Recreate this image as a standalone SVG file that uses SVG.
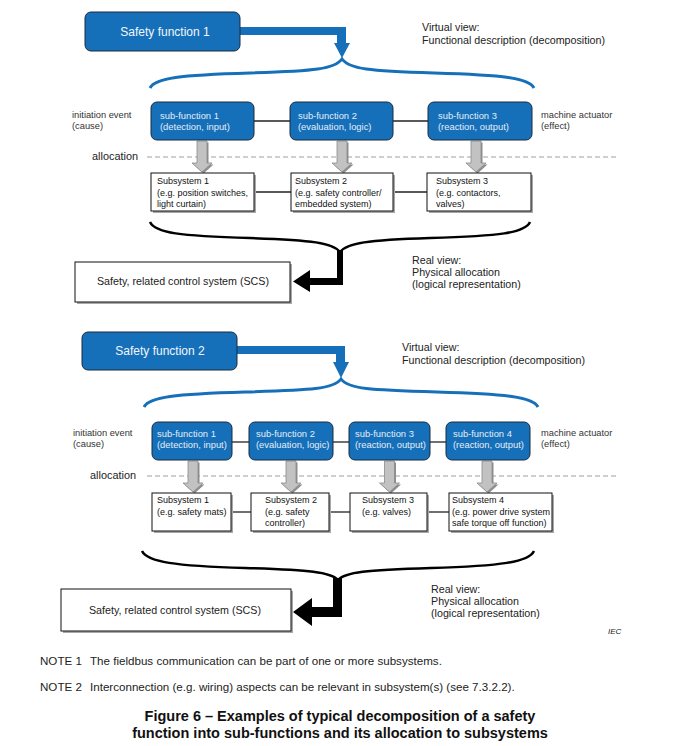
<svg xmlns="http://www.w3.org/2000/svg" xmlns:xlink="http://www.w3.org/1999/xlink" width="692" height="746" viewBox="0 0 692 746">
<style>
text{font-family:"Liberation Sans",Arial,sans-serif;fill:#222}
.sf{fill:#1670b9;stroke:#1b2a3c;stroke-width:1}
.sft{fill:#f2f6fb;font-size:12px}
.sub{fill:#1670b9;stroke:#1b2a3c;stroke-width:1}
.subt{fill:#e4edf7;font-size:9.4px}
.ss{fill:#fff;stroke:#111;stroke-width:1}
.sh{fill:#a8a8a8}
.sst{font-size:9px;fill:#111}
.lab{font-size:9.3px;fill:#333}
.big{font-size:10.7px;fill:#222}
.alloc{font-size:10.9px;fill:#222}
.ln{stroke:#222;stroke-width:1.3;fill:none}
.dash{stroke:#a0a0a0;stroke-width:1.2;stroke-dasharray:5 3;fill:none}
.bbrace{stroke:#1670b9;stroke-width:3;fill:none}
.kbrace{stroke:#000;stroke-width:2.5;fill:none}
.ga{fill:#c2c2c2;stroke:#8c8c8c;stroke-width:0.8}
.gash{fill:#8e8e8e}
.note{font-size:11.6px;fill:#222}
.cap{font-size:14.5px;font-weight:bold;fill:#111}
</style>
<defs>
<path id="garrow" d="M-5,0 H5 V22 H10 L0,31 L-10,22 H-5 Z"/>
</defs>

<g id="connectors">
  <!-- section 1 -->
  <polygon fill="#1670b9" points="240,27 346,27 346,43 350,43 342,58 334,43 337,43 337,35 240,35"/>
  <path class="bbrace" d="M150,88 C155,78 180,75 250,73 C315,71 335,69 342,59 C349,69 369,71 434,73 C504,75 529,78 534,88"/>
  <line class="ln" x1="254" y1="121" x2="290" y2="121"/>
  <line class="ln" x1="393" y1="121" x2="428" y2="121"/>
  <line class="dash" x1="147" y1="157" x2="618" y2="157"/>
  <use href="#garrow" x="203.5" y="142.5" class="gash"/>
  <use href="#garrow" x="202" y="141" class="ga"/>
  <use href="#garrow" x="343.5" y="142.5" class="gash"/>
  <use href="#garrow" x="342" y="141" class="ga"/>
  <use href="#garrow" x="477.5" y="142.5" class="gash"/>
  <use href="#garrow" x="476" y="141" class="ga"/>
  <line class="ln" x1="254" y1="192" x2="291" y2="192"/>
  <line class="ln" x1="393" y1="192" x2="427" y2="192"/>
  <path class="kbrace" d="M150,222 C155,233 180,236 250,238 C313,240 333,243 340,252 C347,243 367,240 430,238 C500,236 525,233 530,222"/>
  <polygon fill="#000" points="337,250 343,250 343,285 310,285 310,292 293,281.5 310,270 310,278 337,278"/>

  <!-- section 2 -->
  <polygon fill="#1670b9" points="237,346 345,346 345,362 349,362 341,378 333,362 336,362 336,354 237,354"/>
  <path class="bbrace" d="M144,407 C149,397 175,394 245,392 C312,390 334,389 341,379 C348,389 370,390 437,392 C507,394 533,397 538,407"/>
  <line class="ln" x1="232" y1="442" x2="249" y2="442"/>
  <line class="ln" x1="333" y1="442" x2="349" y2="442"/>
  <line class="ln" x1="430" y1="442" x2="446" y2="442"/>
  <line class="dash" x1="147" y1="476" x2="618" y2="476"/>
  <use href="#garrow" x="194.5" y="462.5" class="gash"/>
  <use href="#garrow" x="193" y="461" class="ga"/>
  <use href="#garrow" x="292.5" y="462.5" class="gash"/>
  <use href="#garrow" x="291" y="461" class="ga"/>
  <use href="#garrow" x="391" y="462.5" class="gash"/>
  <use href="#garrow" x="389.5" y="461" class="ga"/>
  <use href="#garrow" x="488.5" y="462.5" class="gash"/>
  <use href="#garrow" x="487" y="461" class="ga"/>
  <line class="ln" x1="231" y1="512" x2="251" y2="512"/>
  <line class="ln" x1="329" y1="512" x2="350" y2="512"/>
  <line class="ln" x1="427" y1="512" x2="449" y2="512"/>
  <path class="kbrace" d="M142,551 C147,562 175,566 245,568 C310,570 331,572 338,580 C345,572 366,570 431,568 C501,566 529,562 534,551"/>
  <polygon fill="#000" points="333,578 342,578 342,617 312,617 312,626 293,612 312,598 312,607 333,607"/>
</g>

<g id="sf1">
  <rect class="sf" x="85" y="12" width="155" height="39" rx="6"/>
  <text class="sft" x="165" y="36" text-anchor="middle">Safety function 1</text>
</g>
<g id="vv1">
  <text class="big" x="422" y="31">Virtual view:</text>
  <text class="big" x="422" y="44">Functional description (decomposition)</text>
</g>
<g id="cause1">
  <text class="lab" x="72" y="118">initiation event</text>
  <text class="lab" x="72" y="129">(cause)</text>
</g>
<g id="effect1">
  <text class="lab" x="541" y="118">machine actuator</text>
  <text class="lab" x="541" y="129">(effect)</text>
</g>
<g id="s1f1">
  <rect class="sub" x="151" y="102" width="103" height="38" rx="6"/>
  <text class="subt" x="160" y="119">sub-function 1</text>
  <text class="subt" x="160" y="130">(detection, input)</text>
</g>
<g id="s1f2">
  <rect class="sub" x="290" y="102" width="103" height="38" rx="6"/>
  <text class="subt" x="298" y="119">sub-function 2</text>
  <text class="subt" x="298" y="130">(evaluation, logic)</text>
</g>
<g id="s1f3">
  <rect class="sub" x="428" y="102" width="104" height="38" rx="6"/>
  <text class="subt" x="438" y="119">sub-function 3</text>
  <text class="subt" x="438" y="130">(reaction, output)</text>
</g>
<g id="alloc1">
  <text class="alloc" x="92" y="160">allocation</text>
</g>
<g id="s1s1">
  <rect class="sh" x="153" y="175" width="103" height="38"/>
  <rect class="ss" x="151" y="173" width="103" height="38"/>
  <text class="sst" x="157" y="184">Subsystem 1</text>
  <text class="sst" x="157" y="195.5">(e.g. position switches,</text>
  <text class="sst" x="157" y="207">light curtain)</text>
</g>
<g id="s1s2">
  <rect class="sh" x="293" y="175" width="102" height="38"/>
  <rect class="ss" x="291" y="173" width="102" height="38"/>
  <text class="sst" x="295" y="184">Subsystem 2</text>
  <text class="sst" x="295" y="195.5">(e.g. safety controller/</text>
  <text class="sst" x="295" y="207">embedded system)</text>
</g>
<g id="s1s3">
  <rect class="sh" x="429" y="175" width="104" height="38"/>
  <rect class="ss" x="427" y="173" width="104" height="38"/>
  <text class="sst" x="436" y="184">Subsystem 3</text>
  <text class="sst" x="436" y="195.5">(e.g. contactors,</text>
  <text class="sst" x="436" y="207">valves)</text>
</g>
<g id="scs1">
  <rect class="sh" x="77" y="264" width="215" height="40"/>
  <rect class="ss" x="75" y="262" width="215" height="40"/>
  <text class="big" x="183" y="285" text-anchor="middle">Safety, related control system (SCS)</text>
</g>
<g id="rv1">
  <text class="big" x="412" y="264">Real view:</text>
  <text class="big" x="412" y="276">Physical allocation</text>
  <text class="big" x="412" y="288">(logical representation)</text>
</g>

<g id="sf2">
  <rect class="sf" x="82" y="332" width="155" height="38" rx="6"/>
  <text class="sft" x="160" y="355" text-anchor="middle">Safety function 2</text>
</g>
<g id="vv2">
  <text class="big" x="402" y="351">Virtual view:</text>
  <text class="big" x="402" y="364">Functional description (decomposition)</text>
</g>
<g id="cause2">
  <text class="lab" x="73" y="436">initiation event</text>
  <text class="lab" x="73" y="447">(cause)</text>
</g>
<g id="effect2">
  <text class="lab" x="541" y="436">machine actuator</text>
  <text class="lab" x="541" y="447">(effect)</text>
</g>
<g id="s2f1">
  <rect class="sub" x="152" y="422" width="80" height="38" rx="6"/>
  <text class="subt" x="157" y="437">sub-function 1</text>
  <text class="subt" x="157" y="448">(detection, input)</text>
</g>
<g id="s2f2">
  <rect class="sub" x="249" y="422" width="84" height="38" rx="6"/>
  <text class="subt" x="256" y="437">sub-function 2</text>
  <text class="subt" x="256" y="448">(evaluation, logic)</text>
</g>
<g id="s2f3">
  <rect class="sub" x="349" y="422" width="81" height="38" rx="6"/>
  <text class="subt" x="355" y="437">sub-function 3</text>
  <text class="subt" x="355" y="448">(reaction, output)</text>
</g>
<g id="s2f4">
  <rect class="sub" x="446" y="422" width="84" height="38" rx="6"/>
  <text class="subt" x="453" y="437">sub-function 4</text>
  <text class="subt" x="453" y="448">(reaction, output)</text>
</g>
<g id="alloc2">
  <text class="alloc" x="90" y="479">allocation</text>
</g>
<g id="s2s1">
  <rect class="sh" x="154" y="495" width="79" height="38"/>
  <rect class="ss" x="152" y="493" width="79" height="38"/>
  <text class="sst" x="157" y="503">Subsystem 1</text>
  <text class="sst" x="157" y="514.5">(e.g. safety mats)</text>
</g>
<g id="s2s2">
  <rect class="sh" x="253" y="495" width="78" height="38"/>
  <rect class="ss" x="251" y="493" width="78" height="38"/>
  <text class="sst" x="265" y="503">Subsystem 2</text>
  <text class="sst" x="265" y="514.5">(e.g. safety</text>
  <text class="sst" x="265" y="526">controller)</text>
</g>
<g id="s2s3">
  <rect class="sh" x="352" y="495" width="77" height="38"/>
  <rect class="ss" x="350" y="493" width="77" height="38"/>
  <text class="sst" x="362" y="503">Subsystem 3</text>
  <text class="sst" x="362" y="514.5">(e.g. valves)</text>
</g>
<g id="s2s4">
  <rect class="sh" x="451" y="495" width="103" height="38"/>
  <rect class="ss" x="449" y="493" width="103" height="38"/>
  <text class="sst" x="452" y="503">Subsystem 4</text>
  <text class="sst" x="452" y="514.5">(e.g. power drive system</text>
  <text class="sst" x="452" y="526">safe torque off function)</text>
</g>
<g id="scs2">
  <rect class="sh" x="63" y="591" width="230" height="42"/>
  <rect class="ss" x="61" y="589" width="230" height="42"/>
  <text class="big" x="175" y="614" text-anchor="middle">Safety, related control system (SCS)</text>
</g>
<g id="rv2">
  <text class="big" x="431" y="593">Real view:</text>
  <text class="big" x="431" y="605">Physical allocation</text>
  <text class="big" x="431" y="617">(logical representation)</text>
</g>
<text x="608" y="634" font-size="8" font-style="italic" fill="#333">IEC</text>

<text class="note" x="40" y="665">NOTE 1</text>
<text class="note" x="90" y="665">The fieldbus communication can be part of one or more subsystems.</text>
<text class="note" x="40" y="691">NOTE 2</text>
<text class="note" x="90" y="691">Interconnection (e.g. wiring) aspects can be relevant in subsystem(s) (see 7.3.2.2).</text>
<text class="cap" x="340" y="721" text-anchor="middle">Figure 6 – Examples of typical decomposition of a safety</text>
<text class="cap" x="340" y="738" text-anchor="middle">function into sub-functions and its allocation to subsystems</text>
</svg>
